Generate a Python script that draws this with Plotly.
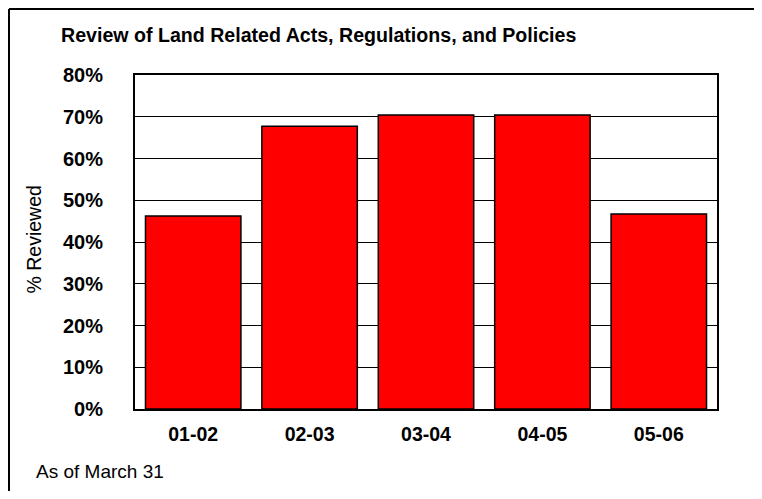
import plotly.graph_objects as go

categories = ["01-02", "02-03", "03-04", "04-05", "05-06"]
pct_reviewed = [0.462, 0.677, 0.704, 0.704, 0.467]
tick_vals = [0, 0.1, 0.2, 0.3, 0.4, 0.5, 0.6, 0.7, 0.8]
tick_text = ["0%", "10%", "20%", "30%", "40%", "50%", "60%", "70%", "80%"]

FONT = "Liberation Sans, Arial, sans-serif"

fig = go.Figure(
    go.Bar(
        x=categories,
        y=pct_reviewed,
        marker=dict(color="#FF0000", line=dict(color="black", width=1.5)),
    )
)

border = dict(color="black", width=2)
fig.update_layout(
    width=746,
    height=483,
    margin=dict(l=127, r=37, t=67, b=82),
    paper_bgcolor="white",
    plot_bgcolor="white",
    bargap=0.18,
    showlegend=False,
    font=dict(family=FONT, size=19, color="black"),
    shapes=[
        dict(type="line", xref="paper", yref="paper",
             x0=-0.2165, x1=1.2, y0=1.1976, y1=1.1976, line=border, layer="below"),
        dict(type="line", xref="paper", yref="paper",
             x0=-0.2165, x1=-0.2165, y0=-0.4, y1=1.1976, line=border, layer="below"),
    ],
    annotations=[
        dict(
            text="<b>Review of Land Related Acts, Regulations, and Policies</b>",
            xref="paper", yref="paper", x=-0.1306, y=1.1195,
            xanchor="left", yanchor="middle", showarrow=False,
            font=dict(family=FONT, size=19.6, color="black"),
        ),
        dict(
            text="As of March 31",
            xref="paper", yref="paper", x=-0.1735, y=-0.187,
            xanchor="left", yanchor="middle", showarrow=False,
            font=dict(family=FONT, size=19, color="black"),
        ),
        dict(
            text="% Reviewed",
            xref="paper", yref="paper", x=-0.1735, y=0.5075,
            xanchor="center", yanchor="middle", showarrow=False, textangle=-90,
            font=dict(family=FONT, size=19.5, color="black"),
        ),
    ],
)

fig.update_xaxes(
    type="category",
    showline=True, mirror=True, linecolor="black", linewidth=2,
    showgrid=False, ticks="", ticklabelstandoff=7,
    tickfont=dict(family=FONT, size=19.5, color="black", weight="bold"),
)
fig.update_yaxes(
    range=[0, 0.8], tickvals=tick_vals, ticktext=tick_text,
    showline=True, mirror=True, linecolor="black", linewidth=2,
    showgrid=True, gridcolor="black", gridwidth=1.2, zeroline=False,
    ticks="", ticklabelstandoff=26,
    tickfont=dict(family=FONT, size=20, color="black", weight="bold"),
)

fig.write_html("out.html")
